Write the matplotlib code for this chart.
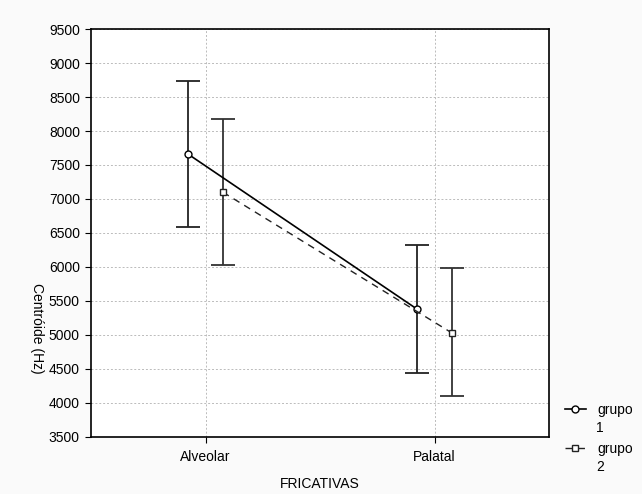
import matplotlib
matplotlib.use('Agg')
from matplotlib import pyplot as plt

categories = ['Alveolar', 'Palatal']
grupo1_mean = [7660, 5380]
grupo1_low = [6590, 4440]
grupo1_high = [8730, 6320]
grupo2_mean = [7100, 5030]
grupo2_low = [6030, 4100]
grupo2_high = [8170, 5990]

plt.rcParams['font.family'] = ['Liberation Sans', 'DejaVu Sans']
plt.rcParams['font.size'] = 10

fig = plt.figure(figsize=(6.42, 4.94), dpi=100, facecolor='#fafafa')
ax = fig.add_axes([91 / 642, 1 - 437 / 494, 458 / 642, 408 / 494])
ax.set_facecolor('white')

x = list(range(len(categories)))
off = 0.076
x1 = [v - off for v in x]
x2 = [v + off for v in x]

err1 = [[m - l for m, l in zip(grupo1_mean, grupo1_low)],
        [h - m for m, h in zip(grupo1_mean, grupo1_high)]]
err2 = [[m - l for m, l in zip(grupo2_mean, grupo2_low)],
        [h - m for m, h in zip(grupo2_mean, grupo2_high)]]

ax.errorbar(x1, grupo1_mean, yerr=err1, fmt='none', ecolor='#222222',
            elinewidth=1.3, capsize=8.5, capthick=1.3, zorder=3)
ax.errorbar(x2, grupo2_mean, yerr=err2, fmt='none', ecolor='#333333',
            elinewidth=1.3, capsize=8.5, capthick=1.3, zorder=3)
l1, = ax.plot(x1, grupo1_mean, '-', color='black', lw=1.2, marker='o',
              ms=5, mfc='white', mec='black', mew=1, zorder=4)
l2, = ax.plot(x2, grupo2_mean, '--', color='#222222', lw=1, marker='s',
              ms=5, mfc='white', mec='#222222', mew=1, zorder=4,
              dashes=(5, 4))

ax.set_xlim(-0.5, 1.5)
ax.set_ylim(3500, 9500)
ax.set_yticks(range(3500, 9501, 500))
ax.set_xticks(x)
ax.set_xticklabels(categories)
ax.grid(True, linestyle=(0, (2, 2)), color='#bbbbbb', lw=0.7)
ax.set_axisbelow(True)
for s in ax.spines.values():
    s.set_linewidth(1.2)
ax.tick_params(axis='y', direction='out', length=4, pad=4)
ax.tick_params(axis='x', direction='out', length=4, pad=5)

ax.set_xlabel('FRICATIVAS', labelpad=10)
ax.set_ylabel('Centróide (Hz)', rotation=270, va='center')
ax.yaxis.set_label_coords(-0.117, 0.267)

# legend: handle beside "grupo", number on the line below
fig.legend([l1, l2], ['grupo', 'grupo'], loc='upper left',
           bbox_to_anchor=(565 / 642, 1 - 403 / 494), frameon=False,
           handlelength=1.5, handletextpad=0.8, labelspacing=1.78,
           borderaxespad=0, borderpad=0)
fig.text(596 / 642, 1 - 428 / 494, '1', va='center', ha='left')
fig.text(596 / 642, 1 - 467 / 494, '2', va='center', ha='left')

plt.savefig('out.png', dpi=100, facecolor=fig.get_facecolor())
